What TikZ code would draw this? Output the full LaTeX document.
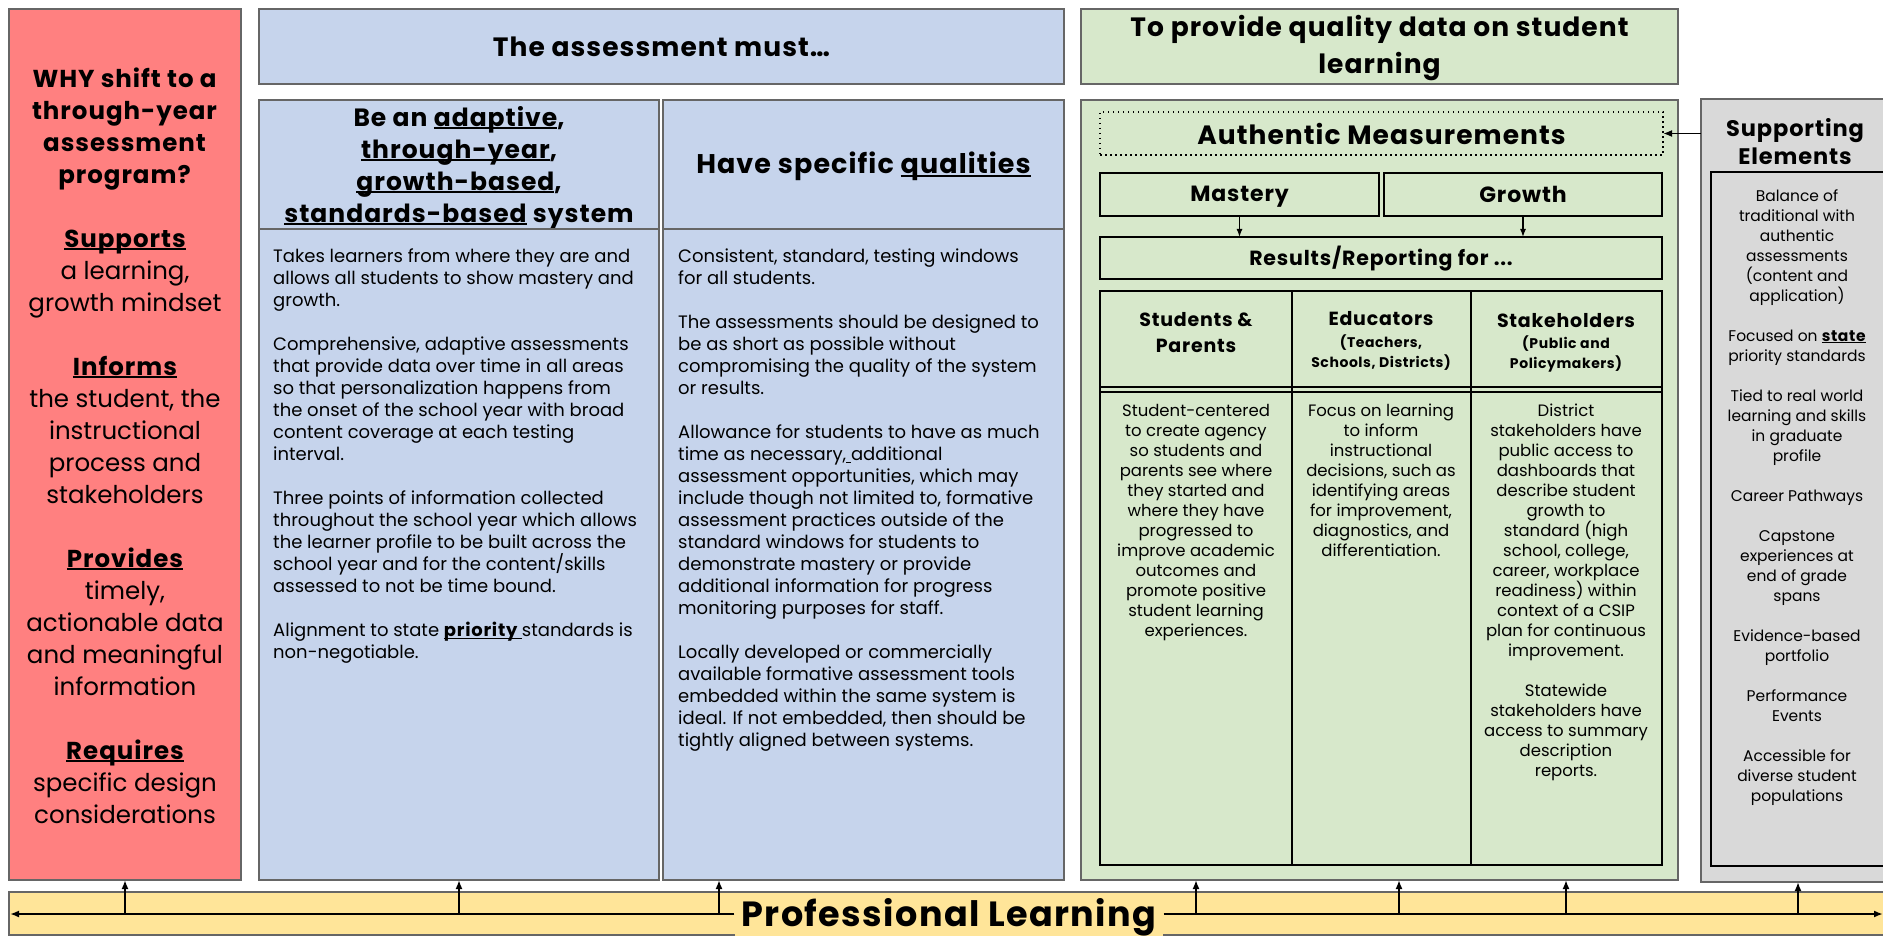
\documentclass[tikz,border=0pt]{standalone}
\usepackage{fontspec}
\setmainfont{Poppins}[BoldFeatures={LetterSpace=4}]
\usetikzlibrary{arrows.meta,fit}

\definecolor{redfill}{HTML}{FF8080}
\definecolor{bluefill}{HTML}{C6D4EC}
\definecolor{greenfill}{HTML}{D7E8CB}
\definecolor{grayfill}{HTML}{D9D9D9}
\definecolor{yellowfill}{HTML}{FFE599}
\definecolor{edge}{HTML}{666666}

% font size / leading in one go
\newcommand\fs[2]{\fontsize{#1}{#2}\selectfont}
% underline sitting just below the baseline
\newcommand\uln[1]{\leavevmode\setbox0\hbox{#1}\rlap{\rule[-0.12em]{\wd0}{0.07em}}\box0\relax}

\tikzset{
  panel/.style={draw=edge, line width=1.5pt, inner sep=0pt, outer sep=0pt},
  cell/.style={draw=black, line width=1.8pt, inner sep=0pt, outer sep=0pt},
  label/.style={inner sep=0pt, align=center},
  bodytext/.style={anchor=north west, inner sep=0pt, align=left, font=\fs{18}{22}},
  tabletext/.style={anchor=north, inner sep=0pt, align=center, font=\fs{16.5}{20}},
  link/.style={line width=1.8pt, -{Latex[length=9pt,width=7pt]}},
  thinlink/.style={line width=1.4pt, -{Latex[length=8pt,width=6pt]}},
}

\begin{document}
\begin{tikzpicture}[x=1pt,y=-1pt]
\useasboundingbox (0,0) rectangle (1883,936);
\clip (0,0) rectangle (1883,936);
\fill[white] (0,0) rectangle (1883,936);

% ---- why column ----
\node[panel, fill=redfill, fit={(9,9)(241,880)}] (why) {};
\node[label, font=\fs{24.5}{32}] (whytext) at ([yshift=-1pt]why.center) {%
\textbf{WHY shift to a}\\\textbf{through-year}\\\textbf{assessment}\\\textbf{program?}\\[32pt]
\textbf{\uln{Supports}}\\a learning,\\growth mindset\\[32pt]
\textbf{\uln{Informs}}\\the student, the\\instructional\\process and\\stakeholders\\[32pt]
\textbf{\uln{Provides}}\\timely,\\actionable data\\and meaningful\\information\\[32pt]
\textbf{\uln{Requires}}\\specific design\\considerations};

% ---- assessment requirements ----
\node[panel, fill=bluefill, fit={(259,9)(1064,84)}] (must) {};
\node[label, font=\fs{26.5}{32}\bfseries] (musttext) at (must.center) {The assessment must…};

\node[panel, fill=bluefill, fit={(259,100)(659,229)}] (headA) {};
\node[label, font=\fs{25}{32}\bfseries] (headAtext) at ([yshift=-3pt]headA.center)
  {Be an \uln{adaptive},\\\uln{through-year},\\\uln{growth-based},\\\uln{standards-based} system};
\node[panel, fill=bluefill, fit={(259,229)(659,880)}] (bodyA) {};
\node[panel, fill=bluefill, fit={(663,100)(1064,229)}] (headB) {};
\node[label, font=\fs{27}{32}\bfseries] (headBtext) at ([yshift=-2pt]headB.center) {Have specific \uln{qualities}};
\node[panel, fill=bluefill, fit={(663,229)(1064,880)}] (bodyB) {};

\node[bodytext] (txtA) at (273,249) {Takes learners from where they are and\\allows all students to show mastery and\\growth.\\[22pt]Comprehensive, adaptive assessments\\that provide data over time in all areas\\so that personalization happens from\\the onset of the school year with broad\\content coverage at each testing\\interval.\\[22pt]Three points of information collected\\throughout the school year which allows\\the learner profile to be built across the\\school year and for the content/skills\\assessed to not be time bound.\\[22pt]Alignment to state \textbf{\uln{priority }}standards is\\non-negotiable.};

\node[bodytext] (txtB) at (678,249) {Consistent, standard, testing windows\\for all students.\\[22pt]The assessments should be designed to\\be as short as possible without\\compromising the quality of the system\\or results.\\[22pt]Allowance for students to have as much\\time as necessary,\uln{\ }additional\\assessment opportunities, which may\\include though not limited to, formative\\assessment practices outside of the\\standard windows for students to\\demonstrate mastery or provide\\additional information for progress\\monitoring purposes for staff.\\[22pt]Locally developed or commercially\\available formative assessment tools\\embedded within the same system is\\ideal. If not embedded, then should be\\tightly aligned between systems.};

% ---- quality data ----
\node[panel, fill=greenfill, fit={(1081,9)(1678,84)}] (quality) {};
\node[label, font=\fs{26.5}{37}\bfseries] (qualitytext) at ([yshift=-2pt]quality.center) {To provide quality data on student\\learning};
\node[panel, fill=greenfill, fit={(1081,100)(1678,880)}] (data) {};

\node[cell, line width=1.5pt, dash pattern=on 1.5pt off 3.5pt, fit={(1100,112)(1663,155)}] (auth) {};
\node[label, font=\fs{26.5}{32}\bfseries] (authtext) at (auth.center) {Authentic Measurements};
\node[cell, fit={(1100,173)(1379,216)}] (mastery) {};
\node[label, font=\fs{22}{26}\bfseries] (masterytext) at ([yshift=-2pt]mastery.center) {Mastery};
\node[cell, fit={(1384,173)(1662,216)}] (growth) {};
\node[label, font=\fs{22}{26}\bfseries] (growthtext) at (growth.center) {Growth};
\node[cell, fit={(1100,237)(1662,279)}] (results) {};
\node[label, font=\fs{20.5}{26}\bfseries] (resultstext) at ([yshift=-1pt]results.center) {Results/Reporting for ...};

\draw[thinlink] (mastery.south) -- (results.north -| mastery.south);
\draw[thinlink] (growth.south) -- (results.north -| growth.south);

% reporting table
\node[cell, fit={(1100,291)(1292,392)}] (hStu) {};
\node[cell, fit={(1292,291)(1471,392)}] (hEdu) {};
\node[cell, fit={(1471,291)(1662,392)}] (hSta) {};
\node[cell, fit={(1100,387)(1292,865)}] (bStu) {};
\node[cell, fit={(1292,387)(1471,865)}] (bEdu) {};
\node[cell, fit={(1471,387)(1662,865)}] (bSta) {};

\node[label, font=\fs{19}{26}\bfseries] (hStutext) at (1196,333) {Students \&\\Parents};
\node[label, font=\fs{19}{26}\bfseries] (hEdutitle) at (1381,319) {Educators};
\node[label, font=\fs{14}{20}\bfseries] (hEdusub) at (1381,353) {(Teachers,\\Schools, Districts)};
\node[label, font=\fs{19}{26}\bfseries] (hStatitle) at (1566,321) {Stakeholders};
\node[label, font=\fs{14}{20}\bfseries] (hStasub) at (1566,354) {(Public and\\Policymakers)};

\node[tabletext] (tStu) at (1196,404) {Student-centered\\to create agency\\so students and\\parents see where\\they started and\\where they have\\progressed to\\improve academic\\outcomes and\\promote positive\\student learning\\experiences.};
\node[tabletext] (tEdu) at (1381,404) {Focus on learning\\to inform\\instructional\\decisions, such as\\identifying areas\\for improvement,\\diagnostics, and\\differentiation.};
\node[tabletext] (tSta) at (1566,404) {District\\stakeholders have\\public access to\\dashboards that\\describe student\\growth to\\standard (high\\school, college,\\career, workplace\\readiness) within\\context of a CSIP\\plan for continuous\\improvement.\\[20pt]Statewide\\stakeholders have\\access to summary\\description\\reports.};

% ---- supporting elements ----
\node[panel, fill=grayfill, fit={(1701,99)(1895,882)}] (support) {};
\node[cell, fit={(1711,172)(1895,866)}] (supportlist) {};
\node[label, font=\fs{22.5}{28}\bfseries] (supporthead) at (1795,142) {Supporting\\Elements};
\node[tabletext, font=\fs{15.5}{20}] (supporttxt) at (1797,189) {Balance of\\traditional with\\authentic\\assessments\\(content and\\application)\\[20pt]Focused on \textbf{\uln{state}}\\priority standards\\[20pt]Tied to real world\\learning and skills\\in graduate\\profile\\[20pt]Career Pathways\\[20pt]Capstone\\experiences at\\end of grade\\spans\\[20pt]Evidence-based\\portfolio\\[20pt]Performance\\Events\\[20pt]Accessible for\\diverse student\\populations};

\draw[link] (support.west |- auth.east) -- (auth.east);

% ---- professional learning ----
\node[panel, fill=yellowfill, fit={(9,892)(1895,935)}] (bar) {};
\coordinate (lineY) at (0,914);
\coordinate (leftEnd) at (10,914);
\coordinate (rightEnd) at (1883,914);
\node[fill=yellowfill, inner xsep=7pt, inner ysep=0pt, anchor=base, font=\fs{35}{38}\bfseries] (pl) at (949,926) {Professional Learning};
\draw[link] (pl.west |- lineY) -- (leftEnd);
\draw[link] (pl.east |- lineY) -- (rightEnd);

\foreach \target/\x [count=\i] in {why/125, bodyA/459, bodyB/719, data/1196, data/1399, data/1566, support/1798} {
  \coordinate (up\i) at (\x,914);
  \draw[link] (up\i) -- (up\i |- \target.south);
}
\end{tikzpicture}
\end{document}
